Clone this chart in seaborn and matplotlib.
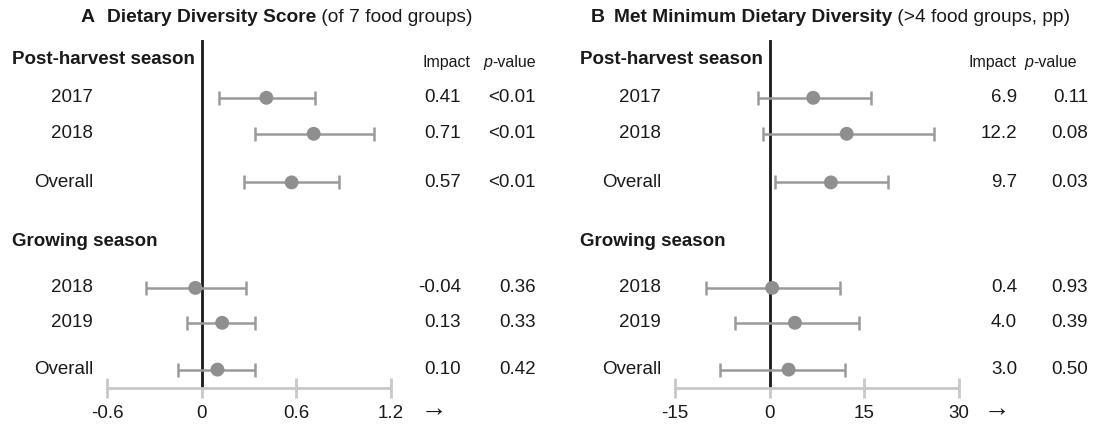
import matplotlib
matplotlib.use("Agg")
import matplotlib.pyplot as plt
import matplotlib.transforms as mtransforms
from matplotlib.text import Annotation
import seaborn as sns
import pandas as pd

# rows (post-harvest 2017, 2018, overall; growing 2018, 2019, overall)
row_labels = ['2017', '2018', 'Overall', '2018', '2019', 'Overall']
section_labels = ['Post-harvest season', 'Growing season']

# Panel A: dietary diversity score
dds_impact = [0.41, 0.71, 0.57, -0.04, 0.13, 0.10]
dds_lo = [0.11, 0.34, 0.27, -0.35, -0.09, -0.15]
dds_hi = [0.72, 1.09, 0.87, 0.28, 0.34, 0.34]
dds_p = ['<0.01', '<0.01', '<0.01', '0.36', '0.33', '0.42']
dds_ticks = [-0.6, 0, 0.6, 1.2]
dds_ticklabels = ['-0.6', '0', '0.6', '1.2']

# Panel B: met minimum dietary diversity (pp)
mdd_impact = [6.9, 12.2, 9.7, 0.4, 4.0, 3.0]
mdd_lo = [-1.9, -1.1, 0.8, -10.1, -5.5, -7.8]
mdd_hi = [16.0, 26.0, 18.7, 11.1, 14.1, 12.0]
mdd_p = ['0.11', '0.08', '0.03', '0.93', '0.39', '0.50']
mdd_ticks = [-15, 0, 15, 30]
mdd_ticklabels = ['-15', '0', '15', '30']

# vertical layout (row slots, uneven gaps like the original)
section_y = [0, 5.05]
row_y = [1.05, 2.05, 3.4, 6.33, 7.3, 8.6]

sns.set_style('white')
plt.rcParams['font.family'] = ['Liberation Sans', 'DejaVu Sans']
plt.rcParams['axes.unicode_minus'] = False

W, H = 1097, 430
fig = plt.figure(figsize=(W / 100, H / 100), dpi=100)

TXT = '#1a1a1a'
PT = '#8f8f8f'
BAR = '#9a9a9a'
AXC = '#c8c8c8'


def panel(left, right, impact, lo, hi, pvals, fmt, ticks, ticklabels,
          lab_x, imp_x, p_x, imp_head_x, p_head_x, arrow_x,
          letter_x, title_x, letter, title_bold, title_rest):
    ax = fig.add_axes([left / W, 1 - 388 / H, (right - left) / W, (388 - 40) / H])
    df = pd.DataFrame({'label': row_labels, 'impact': impact, 'lo': lo,
                       'hi': hi, 'p': pvals, 'y': row_y})
    ax.axvline(0, color=TXT, lw=2, zorder=1)
    ax.errorbar(df['impact'], df['y'],
                xerr=[df['impact'] - df['lo'], df['hi'] - df['impact']],
                fmt='none', ecolor=BAR, elinewidth=1.8, capsize=4.7,
                capthick=1.8, zorder=2)
    sns.scatterplot(data=df, x='impact', y='y', ax=ax, color=PT, s=100,
                    edgecolor='none', zorder=3, legend=False)
    ax.set_xlim(ticks[0], ticks[-1])
    ax.set_ylim((388 - 60) / 36, (40 - 60) / 36)
    ax.set_xlabel('')
    ax.set_ylabel('')
    ax.set_yticks([])
    ax.set_xticks(ticks)
    ax.set_xticklabels(ticklabels)
    ax.tick_params(axis='x', bottom=True, direction='inout', length=14,
                   width=2, color=AXC, labelsize=13.5, labelcolor=TXT, pad=5)
    for s in ['top', 'right', 'left']:
        ax.spines[s].set_visible(False)
    ax.spines['bottom'].set_color(AXC)
    ax.spines['bottom'].set_linewidth(2)
    ax.patch.set_alpha(0)

    tr = mtransforms.blended_transform_factory(fig.transFigure, ax.transData)
    for sec, y in zip(section_labels, section_y):
        ax.text((lab_x - 81) / W, y, sec, transform=tr, ha='left', va='center',
                fontsize=13.5, fontweight='bold', color=TXT, clip_on=False)
    for _, r in df.iterrows():
        ax.text(lab_x / W, r['y'], r['label'], transform=tr, ha='right',
                va='center', fontsize=13.5, color=TXT, clip_on=False)
        ax.text(imp_x / W, r['y'], fmt.format(r['impact']), transform=tr,
                ha='right', va='center', fontsize=13.5, color=TXT, clip_on=False)
        ax.text(p_x / W, r['y'], r['p'], transform=tr, ha='right',
                va='center', fontsize=13.5, color=TXT, clip_on=False)
    ax.text(imp_head_x / W, 0.08, 'Impact', transform=tr, ha='center',
            va='center', fontsize=11.5, color=TXT, clip_on=False)
    tp = ax.text(p_head_x / W, 0.08, 'p', transform=tr, ha='left',
                 va='center', fontsize=11.5, style='italic', color=TXT,
                 clip_on=False)
    ax.annotate('-value', xy=(1, 0), xycoords=tp, ha='left', va='bottom',
                fontsize=11.5, color=TXT, annotation_clip=False)
    fig.text(arrow_x / W, 1 - 409 / H, '\u2192', ha='center', va='center',
             fontsize=19, color=TXT)
    fig.text(letter_x / W, 1 - 18 / H, letter, ha='left', va='center',
             fontsize=14, fontweight='bold', color=TXT)
    tt = fig.text(title_x / W, 1 - 18 / H, title_bold, ha='left', va='center',
                  fontsize=13.8, fontweight='bold', color=TXT)
    fig.add_artist(Annotation(title_rest, xy=(1, 0), xycoords=tt, ha='left',
                              va='bottom', fontsize=13.8, color=TXT))
    return ax


panel(107, 391, dds_impact, dds_lo, dds_hi, dds_p, '{:.2f}', dds_ticks,
      dds_ticklabels, 93, 461, 536, 446, 483, 434,
      81, 107, 'A', 'Dietary Diversity Score', ' (of 7 food groups)')
panel(675, 959, mdd_impact, mdd_lo, mdd_hi, mdd_p, '{:.1f}', mdd_ticks,
      mdd_ticklabels, 661, 1017, 1088, 992, 1024, 997,
      591, 614, 'B', 'Met Minimum Dietary Diversity', ' (>4 food groups, pp)')

fig.savefig('out.png', dpi=100)
